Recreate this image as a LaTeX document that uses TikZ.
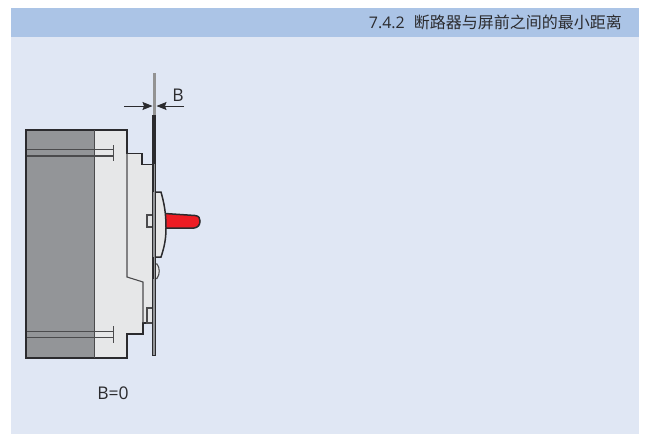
\documentclass[tikz,border=0pt]{standalone}
\usepackage{fontspec}
\setmainfont{Open Sans}
\newfontfamily\cjkfont{Noto Sans CJK SC}
\usetikzlibrary{arrows.meta,positioning}
\definecolor{pagebg}{HTML}{E0E7F4}
\definecolor{headbg}{HTML}{ABC4E6}
\definecolor{darkpart}{HTML}{939598}
\definecolor{lightpart}{HTML}{E6E7E8}
\definecolor{handlered}{HTML}{ED1C24}
\definecolor{inkline}{HTML}{2B2B2E}
\tikzset{
  outline/.style={draw=inkline, line width=1.5pt, line join=miter},
  thinline/.style={draw=inkline!85, line width=1.1pt},
  boltline/.style={draw=inkline!85, line width=1.1pt},
  dimline/.style={draw=inkline, line width=0.9pt, -{Stealth[length=10pt,width=8pt,inset=1.5pt]}},
  label/.style={font=\fontsize{16}{18}\selectfont, text=inkline, inner sep=0pt},
  biglabel/.style={font=\fontsize{17.5}{20}\selectfont, text=inkline, inner sep=0pt},
}
\begin{document}
\begin{tikzpicture}[x=1pt,y=-1pt]
  \useasboundingbox (0,0) rectangle (650,434);
  \fill[pagebg] (11,8) rectangle (639,434);
  \fill[headbg] (11,8) rectangle (639,37);
  \node[label, anchor=base east] (title) at (622,28) {7.4.2\hspace{0.56em}{\cjkfont 断路器与屏前之间的最小距离}};

  % body
  \fill[lightpart] (94,130) -- (127,130) -- (127,153.5) -- (142,153.5) -- (142,164.5) -- (153,164.5)
    -- (153,192) -- (161,192) .. controls (164,203) and (166,212) .. (166,228)
    .. controls (166,240) and (164,248) .. (161,257) -- (153,257) -- (153,323) -- (143,323)
    -- (143,334) -- (127,334) -- (127,358) -- (94,358) -- cycle;
  \fill[darkpart] (26,130) rectangle (94.5,358);

  % bolts
  \draw[boltline] (26,149.5) -- (113,149.5) (26,156) -- (113,156);
  \draw[thinline] (113.5,145) -- (113.5,161);
  \draw[boltline] (26,331.5) -- (113,331.5) (26,337.5) -- (113,337.5);
  \draw[thinline] (113.5,326) -- (113.5,343);

  % handle
  \draw[outline, fill=handlered] (165,213.5) -- (195,215.5) .. controls (199,216) and (200,218) .. (200,221)
    .. controls (200,225) and (198,227.5) .. (194,228) -- (165,228) -- cycle;

  % outline
  \draw[outline] (127,153.5) -- (142,153.5) -- (142,164.5) -- (153,164.5);
  \draw[outline] (127,153.5) -- (127,130) -- (26,130) -- (26,358) -- (127,358) -- (127,334) -- (143,334) -- (143,323) -- (153,323);
  \draw[thinline] (94.5,130) -- (94.5,358);
  \draw[thinline] (127,153.5) -- (127,277) -- (143,282) -- (143,323);
  \draw[outline, fill=lightpart] (153,192) -- (161,192) .. controls (164,203) and (166,212) .. (166,228)
    .. controls (166,240) and (164,248) .. (161,257) -- (153,257);
  \draw[thinline, fill=lightpart] (153,264) -- (157,264) .. controls (160,268) and (160,274) .. (157,278.5) -- (153,278.5);
  \draw[thinline] (147,215) rectangle (153,227);
  \draw[thinline] (147,308) rectangle (153,323);

  % panel
  \draw[draw=gray!85, line width=3pt] (154,73) -- (154,115);
  \draw[outline, line width=1pt, fill=darkpart] (152.3,115) rectangle (155.7,355);
  \draw[outline, line width=3pt] (154,115) -- (154,164);
  \draw[outline, line width=1.5pt] (153,164) -- (153,192);
  \draw[outline, line width=2pt] (153,257) -- (153,278.5);

  % dimension
  \coordinate (dimL) at (124,106);
  \coordinate (dimR) at (184,106);
  \coordinate (tipL) at (152.5,106);
  \coordinate (tipR) at (156.5,106);
  \draw[dimline] (dimL) -- (tipL);
  \draw[dimline] (dimR) -- (tipR);
  \node[biglabel, above=4pt of dimR, xshift=-6pt] (dimB) {B};
  \node[biglabel] (value) at (113,393) {B=0};
\end{tikzpicture}
\end{document}
